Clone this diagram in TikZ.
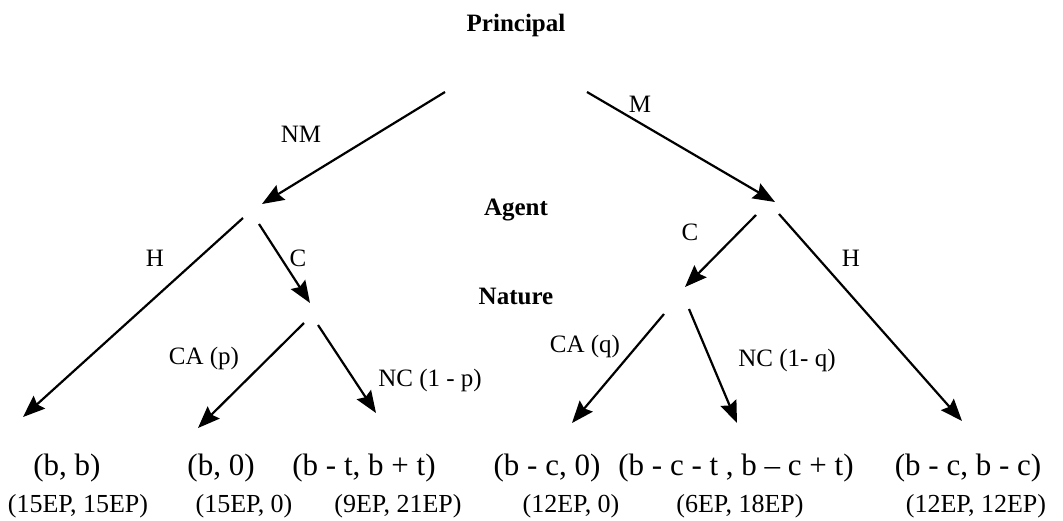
\documentclass[tikz,border=0pt]{standalone}
\usepackage{fontspec}
\setmainfont{Liberation Serif}
\usetikzlibrary{arrows.meta}

\begin{document}
\begin{tikzpicture}[x=1pt, y=-1pt,
        arr/.style={line width=2.2pt, -{Stealth[length=22pt, width=17pt, inset=3pt]}},
        ttl/.style={font=\fontsize{25}{30}\selectfont\bfseries},
        lbl/.style={font=\fontsize{25}{30}\selectfont},
        pay/.style={font=\fontsize{31}{36}\selectfont},
        ep/.style={font=\fontsize{26}{30}\selectfont}]
            \useasboundingbox (0, 0) rectangle (1063, 520);
            % players
            \node[ttl] (principal) at (516, 25)  {Principal};
            \node[ttl] (agent)     at (516, 210) {Agent};
            \node[ttl] (nature)    at (516, 296) {Nature};
            % branch ends
            \coordinate (pL) at (445, 92);  \coordinate (pR) at (587, 92);
            \coordinate (aL) at (262, 204); \coordinate (aR) at (775, 202);
            \coordinate (aLh) at (243, 218); \coordinate (aLc) at (259, 224);
            \coordinate (aRc) at (756, 215); \coordinate (aRh) at (779, 214);
            \coordinate (nL) at (310, 303); \coordinate (nR) at (685, 287);
            \coordinate (nLa) at (304, 323); \coordinate (nLn) at (318, 325);
            \coordinate (nRa) at (664, 314); \coordinate (nRn) at (689, 309);
            \coordinate (t1) at (23, 417);  \coordinate (t2) at (198, 428);
            \coordinate (t3) at (376, 413); \coordinate (t4) at (572, 423);
            \coordinate (t5) at (737, 423); \coordinate (t6) at (962, 421);
            \draw[arr] (pL) -- (aL);
            \draw[arr] (pR) -- (aR);
            \draw[arr] (aLh) -- (t1);
            \draw[arr] (aLc) -- (nL);
            \draw[arr] (aRc) -- (nR);
            \draw[arr] (aRh) -- (t6);
            \draw[arr] (nLa) -- (t2);
            \draw[arr] (nLn) -- (t3);
            \draw[arr] (nRa) -- (t4);
            \draw[arr] (nRn) -- (t5);
            % moves
            \node[lbl] (nm)  at (301, 134) {NM};
            \node[lbl] (m)   at (640, 104) {M};
            \node[lbl] (hL)  at (155, 258) {H};
            \node[lbl] (cL)  at (298, 258) {C};
            \node[lbl] (cR)  at (690, 232) {C};
            \node[lbl] (hR)  at (851, 258) {H};
            \node[lbl] (caL) at (204, 358) {CA (p)};
            \node[lbl] (ncL) at (430, 380) {NC (1 - p)};
            \node[lbl] (caR) at (585, 346) {CA (q)};
            \node[lbl] (ncR) at (787, 360) {NC (1- q)};
            % payoffs
            \node[pay] (o1) at (67, 468)  {(b, b)};
            \node[pay] (o2) at (221, 468) {(b, 0)};
            \node[pay] (o3) at (364, 468) {(b - t, b + t)};
            \node[pay] (o4) at (547, 468) {(b - c, 0)};
            \node[pay] (o5) at (736, 468) {(b - c - t , b -- c + t)};
            \node[pay] (o6) at (968, 468) {(b - c, b - c)};
            \node[ep] (e1) at (78, 506)  {(15EP, 15EP)};
            \node[ep] (e2) at (244, 506) {(15EP, 0)};
            \node[ep] (e3) at (398, 506) {(9EP, 21EP)};
            \node[ep] (e4) at (571, 506) {(12EP, 0)};
            \node[ep] (e5) at (740, 506) {(6EP, 18EP)};
            \node[ep] (e6) at (976, 506) {(12EP, 12EP)};
        \end{tikzpicture}
\end{document}
